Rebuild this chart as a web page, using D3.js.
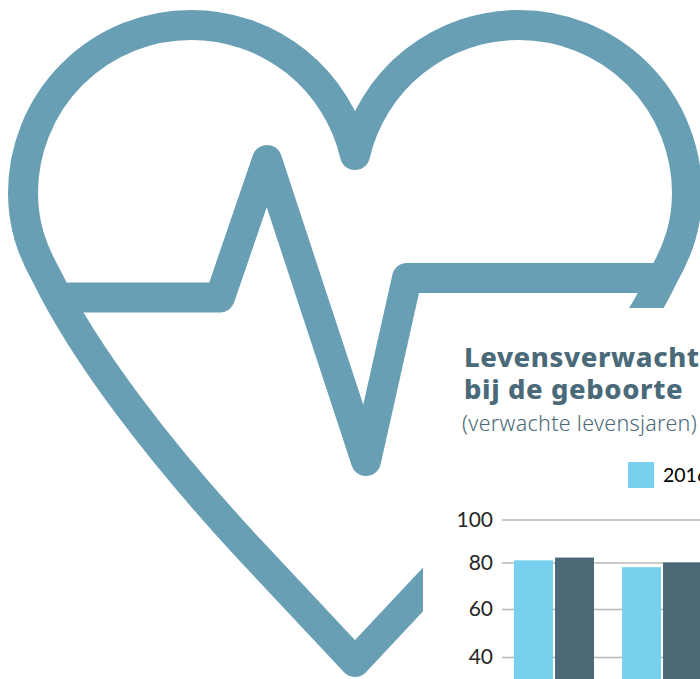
<!DOCTYPE html>
<meta charset="utf-8">
<style>
  html, body { margin: 0; padding: 0; background: #fff; overflow: hidden; }
  svg { display: block; }
</style>

<!-- Load d3.js -->
<script src="https://d3js.org/d3.v7.min.js"></script>

<div id="my_dataviz"></div>

<script>

// values, the rest of the chart is cut off by the crop
var groups = ["groep1", "groep2"];
var values2016 = [81, 78];
var valuesLater = [82.3, 80];
var yTicks = [40, 60, 80, 100];
var titleLines = ["Levensverwacht", "bij de geboorte"];
var subtitle = "(verwachte levensjaren)";
var legendLabel = "2016";

var width = 700, height = 679;

var svg = d3.select("#my_dataviz")
  .append("svg")
    .attr("width", width)
    .attr("height", height);

// heart outline, decoration behind the chart
var heartColor = "#689fb4";
svg.append("path")
    .attr("d", "M355,155 A168,168 0 0 0 191,25 A168,168 0 0 0 23,193 C23,225 32,250 46,275 C85,355 160,453 250,550 L355,662 L460,550 C550,453 625,355 664,275 C678,250 687,225 687,193 A168,168 0 0 0 519,25 A168,168 0 0 0 355,155")
    .attr("fill", "none")
    .attr("stroke", heartColor)
    .attr("stroke-width", 30)
    .attr("stroke-linecap", "round")
    .attr("stroke-linejoin", "round");

// heartbeat line
svg.append("path")
    .attr("d", "M55,297.5 L220,297.5 L267,160 L366,461 L407,278 L662,278")
    .attr("fill", "none")
    .attr("stroke", heartColor)
    .attr("stroke-width", 30)
    .attr("stroke-linecap", "butt")
    .attr("stroke-linejoin", "round");

// white panel of the inset chart
svg.append("rect")
    .attr("x", 423)
    .attr("y", 308)
    .attr("width", 277)
    .attr("height", 371)
    .attr("fill", "#fff");

// title
svg.selectAll(".title")
  .data(titleLines)
  .enter()
  .append("text")
    .attr("class", "title")
    .attr("x", 464)
    .attr("y", function(d, i) { return 367 + i * 32; })
    .style("font-family", "'Noto Sans'")
    .style("font-weight", 800)
    .style("font-size", "27.4px")
    .style("letter-spacing", "0.6px")
    .style("fill", "#4b6a79")
    .text(function(d) { return d; });

svg.append("text")
    .attr("x", 462)
    .attr("y", 431)
    .style("font-family", "'Noto Sans'")
    .style("font-weight", 300)
    .style("font-size", "21.5px")
    .style("letter-spacing", "0.3px")
    .style("fill", "#4b6a79")
    .text(subtitle);

// scales: the gridlines in the picture are not evenly spaced
var y = d3.scaleLinear()
    .domain([40, 60, 80, 100])
    .range([657, 609, 562.5, 519.5]);

var x = d3.scaleBand()
    .domain(groups)
    .range([502, 714])
    .paddingInner(28 / 108)
    .paddingOuter(12 / 108);

var xSeries = d3.scaleBand()
    .domain([0, 1])
    .range([0, x.bandwidth()])
    .paddingInner(0.05);

// axis and gridlines
var axis = svg.append("g")
    .attr("transform", "translate(502,0)")
    .call(d3.axisLeft(y).tickValues(yTicks).tickSize(-198).tickPadding(9));
axis.select(".domain").remove();
axis.selectAll("line")
    .attr("stroke", "#b8b8b8")
    .attr("stroke-width", 1.5);
axis.selectAll("text")
    .style("font-family", "Lato")
    .style("font-size", "21px")
    .style("fill", "#262626");

// bars
var colors = ["#76d0ee", "#4b6977"];
[values2016, valuesLater].forEach(function(values, s) {
  svg.selectAll(".bar" + s)
    .data(values)
    .enter()
    .append("rect")
      .attr("class", "bar" + s)
      .attr("x", function(d, i) { return x(groups[i]) + xSeries(s); })
      .attr("y", function(d) { return y(d); })
      .attr("width", xSeries.bandwidth())
      .attr("height", function(d) { return height - y(d); })
      .style("fill", colors[s]);
});

// legend
svg.append("rect")
    .attr("x", 628)
    .attr("y", 462)
    .attr("width", 26)
    .attr("height", 26)
    .style("fill", colors[0]);

svg.append("text")
    .attr("x", 663)
    .attr("y", 482)
    .style("font-family", "Lato")
    .style("font-size", "19.5px")
    .style("fill", "#000")
    .text(legendLabel);

</script>
